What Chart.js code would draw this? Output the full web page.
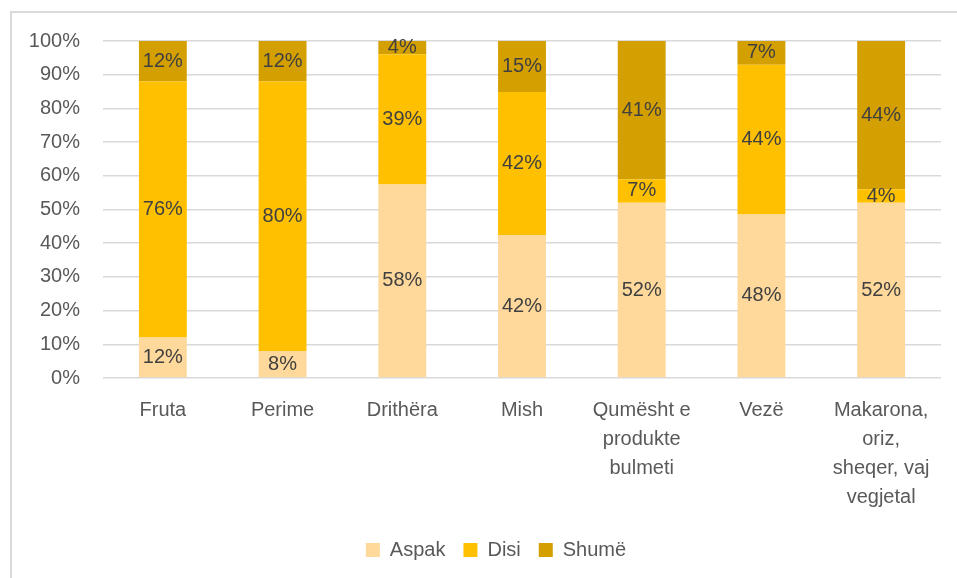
<!DOCTYPE html>
<html>
<head>
<meta charset="utf-8">
<script src="https://cdn.jsdelivr.net/npm/chart.js@4"></script>
<style>
  html, body { margin: 0; padding: 0; background: #fff; }
  #wrap { width: 957px; height: 578px; }
</style>
</head>
<body>
<div id="wrap"><canvas id="chart" width="957" height="578"></canvas></div>
<script>
// categories (multi-line labels as in the original)
const categories = [
    'Fruta',
    'Perime',
    'Drithëra',
    'Mish',
    ['Qumësht e', 'produkte', 'bulmeti'],
    'Vezë',
    ['Makarona,', 'oriz,', 'sheqer, vaj', 'vegjetal']
];

// raw percentages as printed on the bars
const aspak = [12, 8, 58, 42, 52, 48, 52];
const disi = [76, 80, 39, 42, 7, 44, 4];
const shume = [12, 12, 4, 15, 41, 7, 44];

const yTicks = [0, 10, 20, 30, 40, 50, 60, 70, 80, 90, 100];

const FONT = "'Liberation Sans', Arial, sans-serif";
const TEXT = '#595959';

// 100% stacked: each column is scaled to its own total
const totals = aspak.map((v, i) => v + disi[i] + shume[i]);
const norm = arr => arr.map((v, i) => v / totals[i] * 100);

// thin frame like the one around the Excel chart
const framePlugin = {
    id: 'frame',
    beforeDraw(chart) {
        const ctx = chart.ctx;
        ctx.save();
        ctx.strokeStyle = '#d9d9d9';
        ctx.lineWidth = 2;
        ctx.beginPath();
        ctx.moveTo(11, 578);
        ctx.lineTo(11, 12);
        ctx.lineTo(957, 12);
        ctx.stroke();
        ctx.restore();
    }
};

// the original legend sits a bit right of the canvas centre (frame is cropped)
const legendShift = {
    id: 'legendShift',
    afterLayout(chart) {
        const lg = chart.legend;
        if (!lg) return;
        const d = 496 - (lg.left + lg.right) / 2;
        lg.left += d;
        lg.right += d;
    }
};

// value labels in the middle of every segment
const barLabels = {
    id: 'barLabels',
    afterDatasetsDraw(chart) {
        const ctx = chart.ctx;
        ctx.save();
        ctx.font = '20px ' + FONT;
        ctx.fillStyle = '#404040';
        ctx.textAlign = 'center';
        ctx.textBaseline = 'middle';
        chart.data.datasets.forEach((ds, di) => {
            chart.getDatasetMeta(di).data.forEach((bar, i) => {
                const y = (bar.y + bar.base) / 2;
                ctx.fillText(ds.raw[i] + '%', bar.x, y);
            });
        });
        ctx.restore();
    }
};

new Chart(document.getElementById('chart'), {
    type: 'bar',
    data: {
        labels: categories,
        datasets: [
            { label: 'Aspak', data: norm(aspak), raw: aspak, backgroundColor: '#ffd89b' },
            { label: 'Disi', data: norm(disi), raw: disi, backgroundColor: '#ffc000' },
            { label: 'Shumë', data: norm(shume), raw: shume, backgroundColor: '#d49f00' }
        ]
    },
    options: {
        responsive: false,
        animation: false,
        layout: { padding: { top: 41, left: 20, right: 16, bottom: 8 } },
        datasets: {
            bar: { categoryPercentage: 1, barPercentage: 0.4, borderWidth: 0 }
        },
        plugins: {
            tooltip: { enabled: false },
            legend: {
                position: 'bottom',
                labels: {
                    boxWidth: 14,
                    boxHeight: 14,
                    padding: 18,
                    color: TEXT,
                    font: { family: FONT, size: 20 }
                }
            }
        },
        scales: {
            x: {
                stacked: true,
                grid: { display: false },
                border: { display: false },
                ticks: {
                    color: TEXT,
                    padding: 10,
                    maxRotation: 0,
                    autoSkip: false,
                    font: { family: FONT, size: 20, lineHeight: 1.45 }
                },
                afterFit(scale) { scale.height = 144; }
            },
            y: {
                stacked: true,
                min: 0,
                max: 100,
                afterBuildTicks(scale) { scale.ticks = yTicks.map(v => ({ value: v })); },
                grid: { color: '#d9d9d9', lineWidth: 1.5, drawTicks: false },
                border: { display: false },
                ticks: {
                    color: TEXT,
                    padding: 23,
                    font: { family: FONT, size: 20 },
                    callback: v => v + '%'
                },
                afterFit(scale) { scale.width = 83; }
            }
        }
    },
    plugins: [framePlugin, legendShift, barLabels]
});
</script>
</body>
</html>
